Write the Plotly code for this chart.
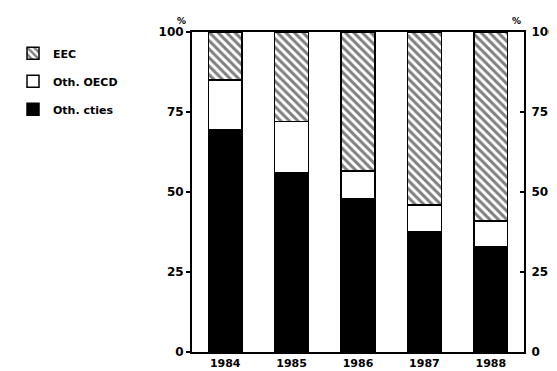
import plotly.graph_objects as go

years = ["1984", "1985", "1986", "1987", "1988"]
oth_cties = [69.5, 56, 48, 37.5, 33]
oth_oecd = [15.5, 16, 8.5, 8.5, 8]
eec = [15, 28, 43.5, 54, 59]
y_ticks = [0, 25, 50, 75, 100]

FONT = "DejaVu Sans"
TICKFONT = dict(family=FONT, size=12, weight="bold")

fig = go.Figure()
fig.add_trace(go.Bar(x=years, y=oth_cties, name="Oth. cties", legendgroup="c", legendrank=3,
                     marker=dict(color="black", line=dict(color="black", width=1.5))))
fig.add_trace(go.Bar(x=years, y=oth_oecd, name="Oth. OECD", legendgroup="b", legendrank=2,
                     marker=dict(color="white", line=dict(color="black", width=1.5))))
fig.add_trace(go.Bar(x=years, y=eec, name="EEC", legendgroup="a", legendrank=1,
                     marker=dict(color="white", line=dict(color="black", width=1.5),
                                 pattern=dict(shape="\\", fgcolor="black", bgcolor="white",
                                              size=6, solidity=0.5))))
# invisible trace to carry right axis
fig.add_trace(go.Scatter(x=years, y=[None]*len(years), yaxis="y2", showlegend=False,
                         hoverinfo="skip", mode="lines"))

fig.update_layout(
    width=557, height=371,
    margin=dict(l=184, r=41, t=24, b=27, autoexpand=False),
    plot_bgcolor="white", paper_bgcolor="white",
    barmode="stack", bargap=0.49,
    font=dict(family=FONT, size=11, color="black"),
    legend=dict(xref="container", yref="container", x=0.009, y=0.917,
                xanchor="left", yanchor="top",
                traceorder="grouped", tracegroupgap=9,
                font=dict(family=FONT, size=11, weight="bold", color="black")),
    xaxis=dict(showline=True, linecolor="black", linewidth=2, mirror=True,
               ticks="", tickfont=dict(family=FONT, size=11, weight="bold")),
    yaxis=dict(range=[0, 100], tickvals=y_ticks, showgrid=False, zeroline=False,
               showline=True, linecolor="black", linewidth=2,
               ticks="outside", ticklen=4, tickwidth=1.5, tickcolor="black",
               tickfont=TICKFONT),
    yaxis2=dict(range=[0, 100], tickvals=y_ticks, overlaying="y", side="right",
                showgrid=False, zeroline=False, showline=True, linecolor="black", linewidth=2,
                ticks="inside", ticklen=4, tickwidth=1.5, tickcolor="black",
                ticklabelstandoff=3, tickfont=TICKFONT),
    annotations=[
        dict(text="%", x=0, y=1, xref="paper", yref="paper", xanchor="right", yanchor="bottom",
             xshift=-4, yshift=4, showarrow=False, font=dict(family=FONT, size=9, weight="bold")),
        dict(text="%", x=1, y=1, xref="paper", yref="paper", xanchor="right", yanchor="bottom",
             xshift=-1, yshift=4, showarrow=False, font=dict(family=FONT, size=9, weight="bold")),
    ],
)

fig.write_html("out.html")
